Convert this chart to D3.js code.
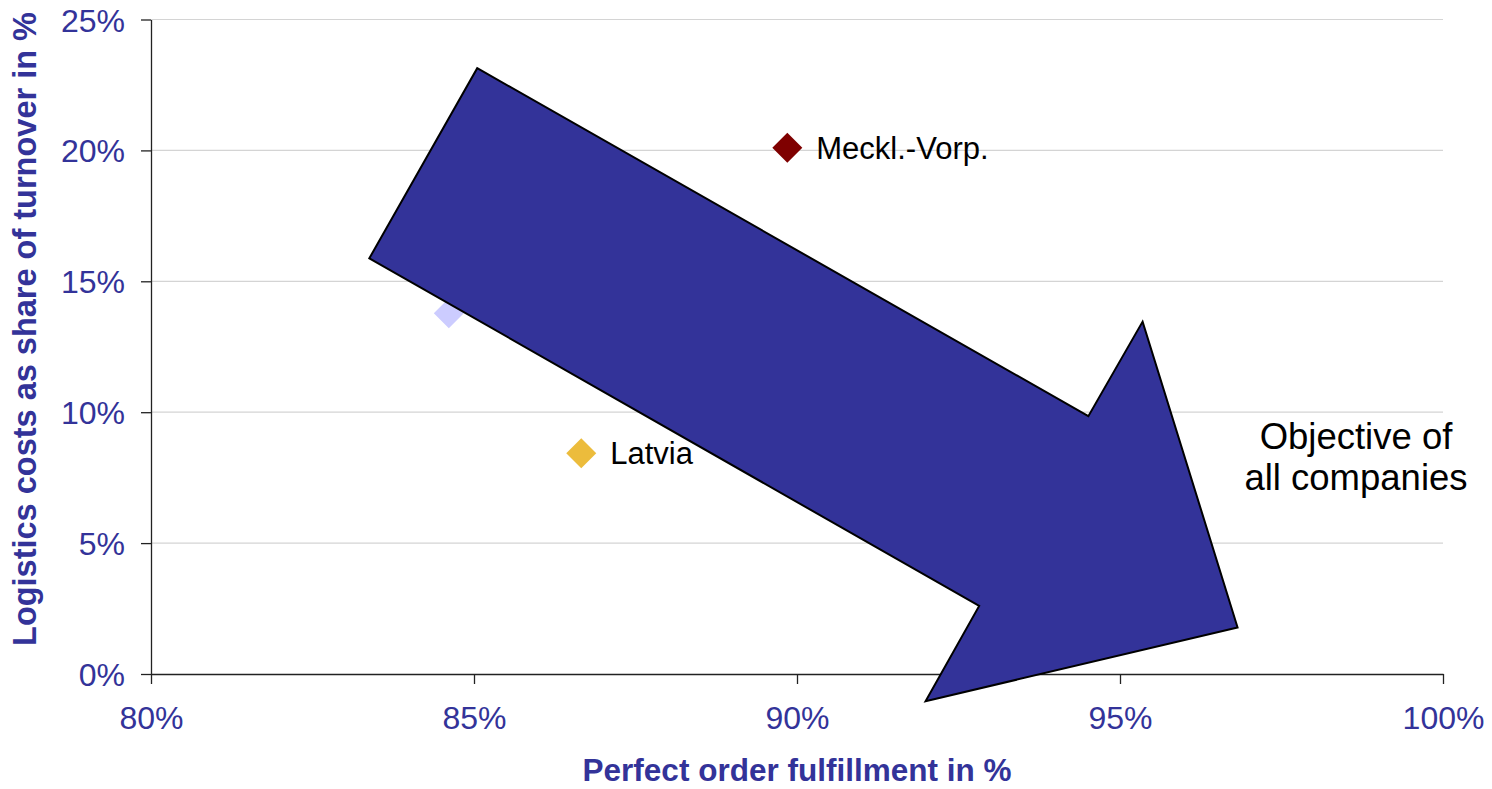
<!DOCTYPE html>
<html>
<head>
<meta charset="utf-8">
<script src="https://cdn.jsdelivr.net/npm/d3@7/dist/d3.min.js"></script>
<style>
  html, body { margin: 0; padding: 0; background: #fff; }
  svg { display: block; font-family: Arial, "Liberation Sans", sans-serif; }
</style>
</head>
<body>
<svg id="chart" width="1492" height="789"></svg>
<script>
// Companies: perfect order fulfillment vs. logistics cost share
const companyNames = ["Meckl.-Vorp.", "Latvia", null];
const fulfillment = [0.8985, 0.8666, 0.8461];
const logisticsCost = [0.2010, 0.0843, 0.1378];
const markerColors = ["#7f0000", "#ecbc3c", "#ccccff"];

// Axis ticks
const xTicks = [0.80, 0.85, 0.90, 0.95, 1.00];
const yTicks = [0, 0.05, 0.10, 0.15, 0.20, 0.25];

// Direction arrow outline (in data units: fulfillment, cost share)
const arrowX = [0.8338, 0.8505, 0.9451, 0.9535, 0.9682, 0.9199, 0.9282];
const arrowY = [0.1588, 0.2314, 0.0985, 0.1346, 0.0178, -0.0104, 0.0260];

const objectiveLines = ["Objective of", "all companies"];

const textBlue = "#333399";
const svg = d3.select("#chart");

const x = d3.scaleLinear().domain([0.80, 1.00]).range([151, 1443]);
const y = d3.scaleLinear().domain([0, 0.25]).range([674, 19.5]);
const pct = d3.format(".0%");

// Horizontal gridlines
svg.append("g")
  .selectAll("line")
  .data(yTicks.filter(d => d > 0))
  .join("line")
  .attr("x1", x(0.80)).attr("x2", x(1.00))
  .attr("y1", d => y(d)).attr("y2", d => y(d))
  .attr("stroke", "#d4d4d4").attr("stroke-width", 1.2);

// Axes
const xAxis = svg.append("g")
  .attr("transform", `translate(0,${y(0)})`)
  .call(d3.axisBottom(x).tickValues(xTicks).tickFormat(pct).tickSize(10).tickSizeOuter(0).tickPadding(22));
const yAxis = svg.append("g")
  .attr("transform", `translate(${x(0.80)},0)`)
  .call(d3.axisLeft(y).tickValues(yTicks).tickFormat(pct).tickSize(10).tickSizeOuter(0).tickPadding(16));

[xAxis, yAxis].forEach(ax => {
  ax.select(".domain").attr("stroke", "#222").attr("stroke-width", 1.3);
  ax.selectAll(".tick line").attr("stroke", "#222").attr("stroke-width", 1.3);
  ax.selectAll(".tick text")
    .attr("fill", textBlue)
    .style("font-size", "32px")
    .style("font-family", "Arial, 'Liberation Sans', sans-serif");
});
yAxis.selectAll(".tick text").attr("dy", "0.36em");
xAxis.selectAll(".tick text").attr("dy", "0.71em");

// Axis titles
svg.append("text")
  .attr("x", x(0.90)).attr("y", 781)
  .attr("text-anchor", "middle")
  .attr("fill", textBlue)
  .style("font-size", "31.5px").style("font-weight", "bold")
  .text("Perfect order fulfillment in %");

svg.append("text")
  .attr("transform", "translate(36,329) rotate(-90)")
  .attr("text-anchor", "middle")
  .attr("fill", textBlue)
  .style("font-size", "32.5px").style("font-weight", "bold")
  .text("Logistics costs as share of turnover in %");

// Company markers (diamonds) and labels
const points = fulfillment.map((f, i) => ({
  name: companyNames[i], fx: f, cy: logisticsCost[i], color: markerColors[i]
}));

svg.append("g")
  .selectAll("path")
  .data(points)
  .join("path")
  .attr("transform", d => `translate(${x(d.fx)},${y(d.cy)}) rotate(45)`)
  .attr("d", d3.symbol().type(d3.symbolSquare).size(450))
  .attr("fill", d => d.color);

svg.append("g")
  .selectAll("text")
  .data(points.filter(d => d.name))
  .join("text")
  .attr("x", d => x(d.fx) + 29)
  .attr("y", d => y(d.cy) + 11)
  .attr("fill", "#000")
  .style("font-size", "31px")
  .text(d => d.name);

// Block arrow pointing towards high fulfillment / low cost
const arrowPts = arrowX.map((v, i) => [x(v), y(arrowY[i])]);
svg.append("path")
  .attr("d", d3.line()(arrowPts) + "Z")
  .attr("fill", "#333399")
  .attr("stroke", "#000")
  .attr("stroke-width", 2)
  .attr("stroke-linejoin", "miter");

// Annotation
svg.append("text")
  .attr("x", 1356).attr("y", 449)
  .attr("text-anchor", "middle")
  .attr("fill", "#000")
  .style("font-size", "36.5px")
  .selectAll("tspan")
  .data(objectiveLines)
  .join("tspan")
  .attr("x", 1356)
  .attr("dy", (d, i) => i === 0 ? 0 : 41)
  .text(d => d);
</script>
</body>
</html>
